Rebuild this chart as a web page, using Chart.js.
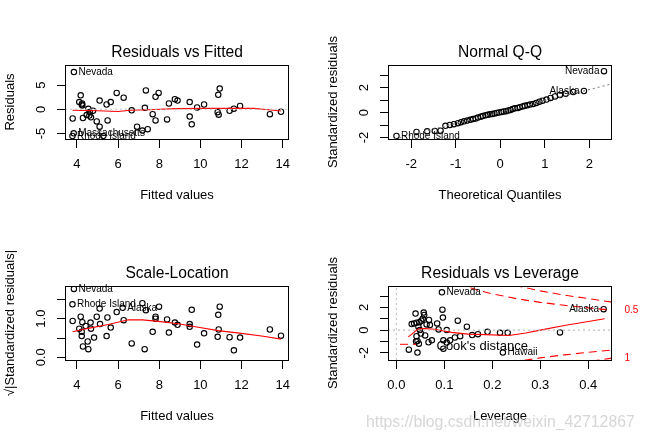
<!DOCTYPE html>
<html><head><meta charset="utf-8">
<script src="https://cdn.jsdelivr.net/npm/chart.js@4/dist/chart.umd.min.js"></script>
<style>
html,body{margin:0;padding:0;background:#fff;}
#wrap{position:relative;width:646px;height:442px;overflow:hidden;}
canvas{position:absolute;}
#wm{position:absolute;left:366px;top:413px;font:15.8px "Liberation Sans",Arial,sans-serif;color:rgba(200,200,200,0.75);white-space:nowrap;}
</style></head><body>
<div id="wrap">
<canvas id="c1" width="323" height="221" style="left:0;top:0"></canvas>
<canvas id="c2" width="323" height="221" style="left:323px;top:0"></canvas>
<canvas id="c3" width="323" height="221" style="left:0;top:221px"></canvas>
<canvas id="c4" width="323" height="221" style="left:323px;top:221px"></canvas>
<div id="wm">https://blog.csdn.net/weixin_42712867</div>
</div>
<script>
// ---------- Panel 1: Residuals vs Fitted ----------
const rvfFitted = [3.79,4.18,4.11,4.23,4.26,4.29,4.47,4.55,4.62,4.68,4.78,4.96,5.10,5.10,5.49,5.44,5.64,5.93,6.27,6.66,6.92,7.18,7.35,7.30,7.44,7.68,7.82,7.82,7.97,8.38,8.47,8.76,8.89,9.48,9.48,9.58,9.84,10.18,10.84,10.89,10.87,10.94,11.42,11.63,11.93,13.38,13.92,4.25,4.60,5.28];
const rvfResid  = [-1.9,2.9,1.5,1.0,0.8,-1.8,-1.2,0.1,-0.55,-1.65,-0.3,-2.5,-3.6,1.8,-2.3,1.0,1.5,3.4,2.4,-0.2,-3.6,-4.4,3.9,0.3,-4.1,-1.0,-2.3,2.6,3.4,-2.1,1.2,2.1,1.8,1.5,-1.5,-3.1,0.4,1.0,-0.6,-1.1,3.0,4.3,-0.3,0.14,0.7,-1.0,-0.5,1.2,-1.3,-5.5];
const rvfIdNames = ['Nevada','Massachusetts','Rhode Island'];
const rvfIdX = [3.85,3.84,3.78];
const rvfIdY = [7.7,-4.97,-5.52];
const rvfIdSide = ['right','right','right'];
const rvfSmoothX = [3.79,5.0,6.0,6.6,7.5,8.8,10.5,12.6,13.3,13.92];
const rvfSmoothY = [-0.2,-0.3,-0.45,-0.2,-0.1,0.15,0.2,0.2,-0.1,-0.35];
const rvfXRange = [3.417,14.31];
const rvfYRange = [-6.14,9.17];
const rvfXTicks = [4,6,8,10,12,14];
const rvfYTicks = [-5,0,5];
const rvfYTickLabels = ['-5','0','5'];

// ---------- Panel 2: Normal Q-Q ----------
const qqTheo = [-2.33,-1.88,-1.64,-1.47,-1.34,-1.23,-1.13,-1.04,-0.95,-0.88,-0.81,-0.74,-0.67,-0.61,-0.55,-0.50,-0.44,-0.39,-0.33,-0.28,-0.23,-0.18,-0.13,-0.08,-0.03,0.03,0.08,0.13,0.18,0.23,0.28,0.33,0.39,0.44,0.50,0.55,0.61,0.67,0.74,0.81,0.88,0.95,1.04,1.13,1.23,1.34,1.47,1.64,1.88,2.33];
const qqStd  = [-1.88,-1.55,-1.50,-1.47,-1.45,-1.06,-0.99,-0.93,-0.85,-0.77,-0.70,-0.64,-0.58,-0.52,-0.47,-0.40,-0.33,-0.28,-0.22,-0.18,-0.14,-0.11,-0.07,-0.03,0.01,0.05,0.09,0.12,0.17,0.22,0.30,0.35,0.38,0.44,0.50,0.55,0.60,0.65,0.70,0.78,0.88,0.96,1.05,1.18,1.30,1.42,1.52,1.66,1.74,3.33];
const qqIdNames = ['Nevada','Alaska','Rhode Island'];
const qqIdX = [2.33,1.88,-2.33];
const qqIdY = [3.33,1.74,-1.88];
const qqIdSide = ['left','left','right'];
const qqLineX = [-2.6,2.6];
const qqLineY = [-2.33,2.40];
const qqXRange = [-2.52,2.51];
const qqYRange = [-2.12,3.83];
const qqXTicks = [-2,-1,0,1,2];
const qqYTicks = [-2,-1,0,1,2,3];
const qqYTickLabels = ['-2','','0','','2',''];

// ---------- Panel 3: Scale-Location ----------
const slFitted = [3.79,4.18,4.11,4.23,4.23,4.29,4.26,4.42,4.55,4.52,4.66,4.68,4.83,4.96,5.10,5.12,5.44,5.48,5.64,5.93,6.27,6.66,7.18,7.35,7.29,7.68,7.82,7.82,7.99,8.38,8.47,8.76,8.89,9.48,9.48,9.58,9.84,10.18,10.84,10.89,10.87,10.94,11.42,11.63,11.93,13.38,13.92];
const slSqrt   = [0.94,1.05,0.74,0.66,0.55,0.28,0.91,0.81,0.21,0.41,0.90,0.74,0.51,1.05,1.26,0.86,0.55,1.03,0.77,1.17,0.96,0.36,1.40,1.22,0.21,0.66,1.05,1.00,1.31,0.98,0.64,0.90,0.84,0.86,0.79,1.23,0.33,0.62,0.53,0.72,1.10,1.31,0.52,0.18,0.51,0.72,0.56];
const slIdNames = ['Nevada','Rhode Island','Alaska'];
const slIdX = [3.85,3.78,6.22];
const slIdY = [1.77,1.37,1.28];
const slIdSide = ['right','right','right'];
const slSmoothX = [3.79,4.55,5.52,6.5,7.18,7.95,8.92,9.9,10.87,12.0,12.98,13.92];
const slSmoothY = [0.66,0.75,0.85,0.97,0.97,0.93,0.87,0.78,0.69,0.62,0.55,0.47];
const slXRange = [3.417,14.31];
const slYRange = [-0.069,1.845];
const slXTicks = [4,6,8,10,12,14];
const slYTicks = [0,0.5,1,1.5];
const slYTickLabels = ['0.0','','1.0',''];

// ---------- Panel 4: Residuals vs Leverage ----------
const rvlLev = [0.040,0.057,0.058,0.096,0.097,0.128,0.147,0.032,0.037,0.042,0.048,0.052,0.055,0.063,0.068,0.070,0.046,0.049,0.051,0.042,0.041,0.044,0.047,0.067,0.060,0.074,0.085,0.088,0.105,0.098,0.105,0.112,0.122,0.133,0.158,0.170,0.190,0.216,0.232,0.341,0.026,0.044,0.098];
const rvlStd = [1.45,1.54,1.33,1.80,1.10,0.83,0.30,0.53,0.59,0.65,0.68,0.83,1.00,0.50,0.89,0.44,0.30,0.00,-0.30,-0.53,-1.00,-0.95,-1.19,-1.07,-0.47,-0.90,0.59,0.06,0.00,-0.90,-1.10,-0.90,-0.65,-0.53,-0.44,-0.36,-0.15,-0.24,-0.24,-0.20,-1.72,-1.98,-1.63];
const rvlIdNames = ['Nevada','Alaska','Hawaii'];
const rvlIdX = [0.095,0.432,0.222];
const rvlIdY = [3.32,1.84,-1.98];
const rvlIdSide = ['right','left','right'];
const rvlSmoothX = [0.025,0.046,0.060,0.080,0.115,0.150,0.185,0.235,0.270,0.300,0.350,0.400,0.434];
const rvlSmoothY = [-0.60,0.12,0.13,0.08,-0.20,-0.35,-0.40,-0.48,-0.25,0.00,0.40,0.75,1.00];
const cookHalfUpX = [0.13,0.14,0.17,0.20,0.25,0.30,0.35,0.40,0.45];
const cookHalfUpY = [4.20,3.94,3.50,3.19,2.77,2.44,2.18,1.955,1.75];
const cookHalfLoX = [0.24,0.25,0.30,0.35,0.40,0.45];
const cookHalfLoY = [-2.85,-2.77,-2.44,-2.18,-1.955,-1.75];
const cookOneUpX = [0.22,0.25,0.30,0.35,0.40,0.45];
const cookOneUpY = [4.25,3.91,3.45,3.08,2.77,2.46];
const cookOneLoX = [0.38,0.40,0.45];
const cookOneLoY = [-2.92,-2.77,-2.46];
const cookLevels = ['0.5','1'];
const cookLabelY = [1.75,-2.46];
const rvlXRange = [-0.0174,0.4494];
const rvlYRange = [-2.63,3.88];
const rvlXTicks = [0,0.1,0.2,0.3,0.4];
const rvlXTickLabels = ['0.0','0.1','0.2','0.3','0.4'];
const rvlYTicks = [-2,-1,0,1,2,3];
const rvlYTickLabels = ['-2','','0','','2',''];

// ---------- helpers ----------
const FONT = '"Liberation Sans", Arial, sans-serif';
Chart.defaults.font.family = FONT;
const pts = (xs, ys) => xs.map((x, i) => ({x, y: ys[i]}));
function pointDS(xs, ys) {
  return {data: pts(xs, ys), showLine: false, pointStyle: 'circle', pointRadius: 2.7,
    pointBorderWidth: 1.1, pointBorderColor: '#000', pointBackgroundColor: 'rgba(0,0,0,0)', order: 5};
}
function lineDS(xs, ys, color, dash, order) {
  return {data: pts(xs, ys), showLine: true, borderColor: color, borderWidth: 1.1,
    borderDash: dash || [], pointRadius: 0, fill: false, tension: 0, order: order};
}
function idItems(names, xs, ys, sides) {
  return names.map((t, i) => ({text: t, x: xs[i], y: ys[i], side: sides[i]}));
}
function rPlugin(items, legend) {
  return {
    id: 'rPlot',
    afterDatasetsDraw(chart) {
      const {ctx, chartArea: a, scales} = chart;
      const xs = scales.x, ys = scales.y;
      ctx.save();
      ctx.strokeStyle = '#000'; ctx.lineWidth = 1; ctx.setLineDash([]);
      ctx.strokeRect(Math.round(a.left) + 0.5, Math.round(a.top) + 0.5,
        Math.round(a.right - a.left) - 1, Math.round(a.bottom - a.top));
      ctx.font = '10px ' + FONT; ctx.fillStyle = '#000'; ctx.textBaseline = 'middle';
      items.forEach(it => {
        const px = xs.getPixelForValue(it.x), py = ys.getPixelForValue(it.y);
        if (it.side === 'left') { ctx.textAlign = 'right'; ctx.fillText(it.text, px - 4.5, py); }
        else { ctx.textAlign = 'left'; ctx.fillText(it.text, px + 4.5, py); }
      });
      if (legend) {
        const ly = a.bottom - 15.7;
        ctx.strokeStyle = '#ff0000'; ctx.setLineDash([8, 5]);
        ctx.beginPath(); ctx.moveTo(a.left + 12, ly); ctx.lineTo(a.left + 28, ly); ctx.stroke();
        ctx.setLineDash([]);
        ctx.font = '13px ' + FONT; ctx.fillStyle = '#000'; ctx.textAlign = 'left';
        ctx.fillText(legend, a.left + 48.5, a.bottom - 13.5);
      }
      ctx.restore();
    }
  };
}
function axisX(range, ticks, labels, title) {
  return {type: 'linear', position: 'bottom', min: range[0], max: range[1],
    afterBuildTicks: s => { s.ticks = ticks.map(v => ({value: v})); },
    afterFit: s => { s.height = 82; },
    ticks: {autoSkip: false, minRotation: 0, maxRotation: 0, padding: 8.2, color: '#000',
      font: {family: FONT, size: 13}, callback: (v, i) => labels ? labels[i] : String(ticks[i])},
    grid: {drawOnChartArea: false, drawTicks: true, tickLength: 9, color: '#000', lineWidth: 1},
    border: {display: false},
    title: {display: true, text: title, color: '#000', font: {family: FONT, size: 13}, padding: {top: 0, bottom: 17.5}}};
}
function axisY(range, ticks, labels, title, pad) {
  return {type: 'linear', position: 'left', min: range[0], max: range[1],
    afterBuildTicks: s => { s.ticks = ticks.map(v => ({value: v})); },
    afterFit: s => { s.width = 65; },
    ticks: {autoSkip: false, minRotation: 90, maxRotation: 90, crossAlign: 'center', padding: pad,
      color: '#000', font: {family: FONT, size: 13}, callback: (v, i) => labels[i]},
    grid: {drawOnChartArea: false, drawTicks: true, tickLength: 8, color: '#000', lineWidth: 1},
    border: {display: false},
    title: {display: true, text: title, color: '#000', font: {family: FONT, size: 13}, padding: {top: 2.2, bottom: 0}}};
}
function baseOptions(title, scales, rightPad) {
  return {responsive: false, animation: false, events: [],
    layout: {padding: {left: 0, right: rightPad, top: 0, bottom: 0}},
    plugins: {legend: {display: false}, tooltip: {enabled: false},
      title: {display: true, text: title, fullSize: false, color: '#000',
        font: {family: FONT, size: 15.6, weight: 'normal', lineHeight: 1.2},
        padding: {top: 43.6, bottom: 2.68}}},
    scales: scales};
}

// Panel 1
new Chart(document.getElementById('c1'), {
  type: 'scatter',
  data: {datasets: [
    lineDS(rvfXRange, [0, 0], '#bebebe', [2, 3], 1),
    lineDS(rvfSmoothX, rvfSmoothY, '#ff0000', [], 2),
    pointDS(rvfFitted.concat(rvfIdX), rvfResid.concat(rvfIdY))
  ]},
  options: baseOptions('Residuals vs Fitted', {
    x: axisX(rvfXRange, rvfXTicks, null, 'Fitted values'),
    y: axisY(rvfYRange, rvfYTicks, rvfYTickLabels, 'Residuals', 9.5)}, 34),
  plugins: [rPlugin(idItems(rvfIdNames, rvfIdX, rvfIdY, rvfIdSide))]
});

// Panel 2
new Chart(document.getElementById('c2'), {
  type: 'scatter',
  data: {datasets: [
    lineDS(qqLineX, qqLineY, '#7f7f7f', [2, 3], 1),
    pointDS(qqTheo, qqStd)
  ]},
  options: baseOptions('Normal Q-Q', {
    x: axisX(qqXRange, qqXTicks, null, 'Theoretical Quantiles'),
    y: axisY(qqYRange, qqYTicks, qqYTickLabels, 'Standardized residuals', 9.5)}, 34),
  plugins: [rPlugin(idItems(qqIdNames, qqIdX, qqIdY, qqIdSide))]
});

// Panel 3
new Chart(document.getElementById('c3'), {
  type: 'scatter',
  data: {datasets: [
    lineDS(slSmoothX, slSmoothY, '#ff0000', [], 1),
    pointDS(slFitted.concat(slIdX), slSqrt.concat(slIdY))
  ]},
  options: baseOptions('Scale-Location', {
    x: axisX(slXRange, slXTicks, null, 'Fitted values'),
    y: axisY(slYRange, slYTicks, slYTickLabels, '\u221A|Standardized residuals|', 6.3)}, 34),
  plugins: [rPlugin(idItems(slIdNames, slIdX, slIdY, slIdSide))]
});

// Panel 4
const p4scales = {
  x: axisX(rvlXRange, rvlXTicks, rvlXTickLabels, 'Leverage'),
  y: axisY(rvlYRange, rvlYTicks, rvlYTickLabels, 'Standardized residuals', 9.5),
  y2: {type: 'linear', position: 'right', min: rvlYRange[0], max: rvlYRange[1],
    afterBuildTicks: s => { s.ticks = cookLabelY.map(v => ({value: v})); },
    afterFit: s => { s.width = 34; },
    ticks: {autoSkip: false, padding: 4.5, color: '#ff0000', font: {family: FONT, size: 10},
      callback: (v, i) => cookLevels[i]},
    grid: {display: false}, border: {display: false}}
};
new Chart(document.getElementById('c4'), {
  type: 'scatter',
  data: {datasets: [
    lineDS(rvlXRange, [0, 0], '#bebebe', [2, 3], 1),
    lineDS([0, 0], rvlYRange, '#bebebe', [2, 3], 1),
    lineDS(rvlSmoothX, rvlSmoothY, '#ff0000', [], 2),
    lineDS(cookHalfUpX, cookHalfUpY, '#ff0000', [8, 5], 3),
    lineDS(cookHalfLoX, cookHalfLoY, '#ff0000', [8, 5], 3),
    lineDS(cookOneUpX, cookOneUpY, '#ff0000', [8, 5], 3),
    lineDS(cookOneLoX, cookOneLoY, '#ff0000', [8, 5], 3),
    pointDS(rvlLev.concat(rvlIdX), rvlStd.concat(rvlIdY))
  ]},
  options: baseOptions('Residuals vs Leverage', p4scales, 0),
  plugins: [rPlugin(idItems(rvlIdNames, rvlIdX, rvlIdY, rvlIdSide), "Cook's distance")]
});
</script>
</body></html>
